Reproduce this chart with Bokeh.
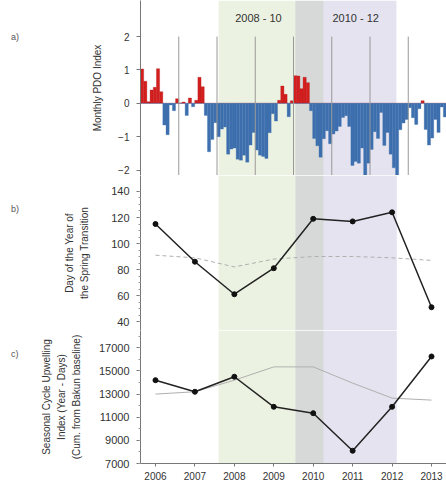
from bokeh.plotting import figure
from bokeh.layouts import column, row
from bokeh.models import BoxAnnotation, Label, FixedTicker, Range1d, Div
from bokeh.embed import file_html
from bokeh.resources import INLINE

# ---------------- data ----------------
pdo_years = [2006, 2007, 2008, 2009, 2010, 2011, 2012, 2013]
pdo_monthly = [
    1.03, 0.66, 0.05, 0.40, 0.48, 1.04, 0.35, -0.65, -0.94, -0.05, -0.22, 0.14,
    0.01, 0.04, -0.36, 0.16, -0.10, 0.09, 0.78, 0.50, -0.36, -1.45, -1.08, -0.58,
    -1.00, -0.77, -0.71, -1.52, -1.37, -1.34, -1.67, -1.70, -1.55, -1.76, -1.25, -0.87,
    -1.40, -1.55, -1.59, -1.65, -0.88, -0.31, -0.53, 0.09, 0.52, 0.27, -0.40, 0.08,
    0.83, 0.82, 0.44, 0.78, 0.62, -0.22, -1.05, -1.27, -1.61, -1.06, -0.82, -1.21,
    -0.92, -0.83, -0.69, -0.42, -0.37, -0.69, -1.86, -1.74, -1.79, -1.34, -2.33, -1.79,
    -1.38, -0.85, -1.05, -0.27, -1.26, -0.87, -1.52, -1.93, -2.21, -0.79, -0.59, -0.48,
    -0.13, -0.43, -0.63, -0.16, 0.08, -0.78, -1.25, -1.04, -0.48, -0.87, -0.11, -0.41,
]

years = [2006, 2007, 2008, 2009, 2010, 2011, 2012, 2013]
year_labels = ["2006", "2007", "2008", "2009", "2010", "2011", "2012", "2013"]
spring_transition = [115, 86, 61, 81, 119, 117, 124, 51]
spring_reference = [91, 89, 82, 88, 90, 90, 89, 87]
upwelling = [14200, 13200, 14500, 11900, 11350, 8100, 11900, 16250]
upwelling_reference = [13000, 13200, 14200, 15350, 15350, 13950, 12650, 12480]

period_labels = ["2008 - 10", "2010 - 12"]
panel_letters = ["a)", "b)", "c)"]

# shading periods (top panel in months since Jan 2006, lower panels in years)
green_top = (24.5, 57.4)
purple_top = (48.6, 80.3)
green_low = (2007.60, 2010.26)
purple_low = (2009.55, 2012.12)

GREEN = "#9fbf6a"
PURPLE = "#8a7fb8"
FONT = "Liberation Sans"
DIVW = 24
W = 446 - DIVW
LEFT = 140 - DIVW


def style(p, tick_size="10px", label_standoff=10):
    p.outline_line_color = None
    p.xgrid.grid_line_color = None
    p.ygrid.grid_line_color = None
    p.background_fill_color = "white"
    p.border_fill_color = "white"
    for ax in p.yaxis:
        ax.axis_line_color = "#777777"
        ax.major_tick_line_color = "#777777"
        ax.minor_tick_line_color = "#999999"
        ax.major_label_text_font = FONT
        ax.major_label_text_font_size = tick_size
        ax.major_label_text_color = "#333333"
        ax.major_label_standoff = 7
        ax.axis_label_text_font = FONT
        ax.axis_label_text_font_size = "10px"
        ax.axis_label_text_font_style = "normal"
        ax.axis_label_text_color = "#333333"
        ax.axis_label_text_line_height = 1.35
        ax.axis_label_standoff = label_standoff
        ax.major_tick_out = 4
        ax.major_tick_in = 0
        ax.minor_tick_out = 2
        ax.minor_tick_in = 0


def shade(p, g, pu):
    p.add_layout(BoxAnnotation(left=g[0], right=g[1], fill_color=GREEN, fill_alpha=0.2,
                               line_color=None, level="underlay"))
    p.add_layout(BoxAnnotation(left=pu[0], right=pu[1], fill_color=PURPLE, fill_alpha=0.22,
                               line_color=None, level="underlay"))


def letter_div(txt, top, h):
    return Div(text=f"<div style='position:relative; left:11px; top:{top}px; font-family:Liberation Sans;"
                    f" font-size:9px; color:#555555; line-height:1;'>{txt}</div>",
               width=DIVW, height=h, margin=(0, 0, 0, 0))


# ---------------- panel A ----------------
n_months = len(pdo_monthly)
pa = figure(width=W, height=175, output_backend="svg", toolbar_location=None,
            x_axis_location=None, x_range=Range1d(0, n_months), y_range=Range1d(-2.16, 3.08),
            min_border_left=LEFT, min_border_right=0, min_border_top=0, min_border_bottom=0)
style(pa, label_standoff=12)
shade(pa, green_top, purple_top)
mid = [i + 0.5 for i in range(n_months)]
pos = [v if v > 0 else 0 for v in pdo_monthly]
neg = [v if v < 0 else 0 for v in pdo_monthly]
pa.vbar(x=mid, top=pos, bottom=0, width=1.0, fill_color="#d41f1f", line_color="#b01010", line_width=0.3)
pa.vbar(x=mid, top=0, bottom=neg, width=1.0, fill_color="#3d6fae", line_color="#3d6fae", line_width=0.3)
year_starts = [12 * (y - pdo_years[0]) for y in pdo_years[1:]]
pa.segment(x0=year_starts, x1=year_starts, y0=[-2.16] * len(year_starts), y1=[2.0] * len(year_starts),
           line_color="#999999", line_width=1)
pa.yaxis.ticker = FixedTicker(ticks=[-2, -1, 0, 1, 2])
pa.yaxis.axis_label = "Monthly PDO Index"
for txt, xc in zip(period_labels, [37.0, 67.5]):
    pa.add_layout(Label(x=xc, y=2.55, text=txt, text_align="center", text_baseline="middle",
                        text_font=FONT, text_font_size="11px", text_color="#333333"))

# ---------------- panel B ----------------
xr_low = (2005.62, 2013.38)
pb = figure(width=W, height=155, output_backend="svg", toolbar_location=None,
            x_axis_location=None, x_range=Range1d(*xr_low), y_range=Range1d(33.1, 152.3),
            min_border_left=LEFT, min_border_right=0, min_border_top=0, min_border_bottom=0)
style(pb, tick_size="11px", label_standoff=18)
shade(pb, green_low, purple_low)
pb.line(years, spring_reference, line_color="#b0b0b0", line_width=1, line_dash="4 3")
pb.line(years, spring_transition, line_color="#222222", line_width=1.5)
pb.scatter(years, spring_transition, size=5, color="#111111")
pb.yaxis.ticker = FixedTicker(ticks=[40, 60, 80, 100, 120, 140],
                              minor_ticks=list(range(40, 141, 5)))
pb.yaxis.axis_label = "Day of the Year of\nthe Spring Transition"

# ---------------- panel C ----------------
pc = figure(width=W, height=159, output_backend="svg", toolbar_location=None,
            x_range=Range1d(*xr_low), y_range=Range1d(7000, 18495),
            min_border_left=LEFT, min_border_right=0, min_border_top=0, min_border_bottom=26)
style(pc, tick_size="11px", label_standoff=14)
shade(pc, green_low, purple_low)
pc.line(years, upwelling_reference, line_color="#b0b0b0", line_width=1)
pc.line(years, upwelling, line_color="#222222", line_width=1.5)
pc.scatter(years, upwelling, size=5, color="#111111")
pc.yaxis.ticker = FixedTicker(ticks=[7000, 9000, 11000, 13000, 15000, 17000],
                              minor_ticks=list(range(7000, 18001, 1000)))
pc.yaxis.axis_label = "Seasonal Cycle Upwelling\nIndex (Year - Days)\n(Cum. from Bakun baseline)"
pc.xaxis.ticker = FixedTicker(ticks=years)
pc.xaxis.major_label_overrides = {y: s for y, s in zip(years, year_labels)}
pc.xaxis.axis_line_color = "#777777"
pc.xaxis.major_tick_line_color = "#777777"
pc.xaxis.major_tick_out = 3
pc.xaxis.major_tick_in = 0
pc.xaxis.minor_tick_line_color = None
pc.xaxis.major_label_text_font = FONT
pc.xaxis.major_label_text_font_size = "10px"
pc.xaxis.major_label_text_color = "#333333"

rows = [
    row(letter_div(panel_letters[0], 28, 175), pa, spacing=0),
    row(letter_div(panel_letters[1], 25, 155), pb, spacing=0),
    row(letter_div(panel_letters[2], 15, 159), pc, spacing=0),
]
layout = column(*rows, spacing=0)
open("out.html", "w").write(file_html(layout, INLINE))
